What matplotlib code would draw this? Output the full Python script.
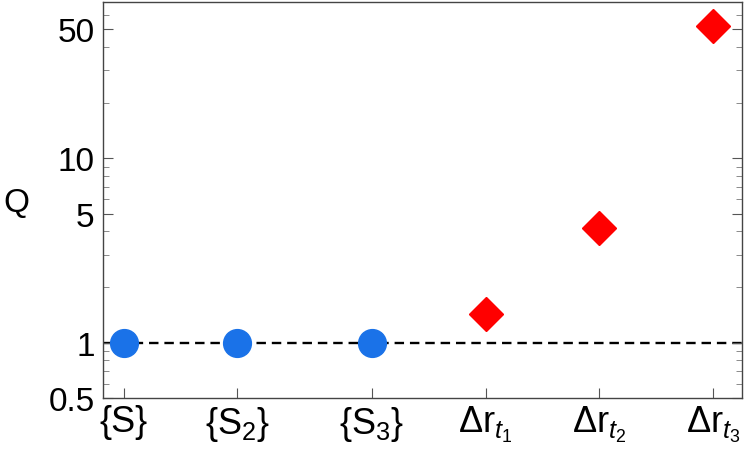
import matplotlib
matplotlib.use("Agg")
import matplotlib.pyplot as plt
from matplotlib.ticker import LogLocator, FixedLocator, NullFormatter

plt.rcParams['font.family'] = ['Liberation Sans', 'DejaVu Sans']
plt.rcParams['mathtext.fontset'] = 'custom'
plt.rcParams['mathtext.rm'] = 'Liberation Sans'
plt.rcParams['mathtext.it'] = 'Liberation Sans:italic'

# data
labels = [r'{S}', r'{S$_2$}', r'{S$_3$}',
          r'$\Delta\mathrm{r}_{t_1}$', r'$\Delta\mathrm{r}_{t_2}$', r'$\Delta\mathrm{r}_{t_3}$']
x_pos = [1, 2, 3.18, 4.18, 5.18, 6.18]
q_sets = [1.0, 1.0, 1.0]
q_dr = [1.42, 4.2, 52.0]
y_ticks = [0.5, 1, 5, 10, 50]

fig = plt.figure(figsize=(7.47, 4.52), dpi=100)
ax = fig.add_axes([0.138, 0.117, 0.855, 0.876])

ax.axhline(1, color='black', linestyle=(0, (4, 2.5)), linewidth=1.7, zorder=1)
ax.plot(x_pos[:3], q_sets, linestyle='none', marker='o', markersize=20,
        color='#1a72e8', zorder=3)
ax.plot(x_pos[3:], q_dr, linestyle='none', marker='D', markersize=17,
        color='#ff0000', zorder=3)

ax.set_yscale('log')
ax.set_ylim(0.5, 70)
ax.set_xlim(0.82, 6.43)

ax.yaxis.set_major_locator(FixedLocator(y_ticks))
ax.set_yticklabels([str(v) for v in y_ticks])
ax.yaxis.set_minor_locator(LogLocator(base=10, subs=range(1, 10), numticks=20))
ax.yaxis.set_minor_formatter(NullFormatter())

ax.set_xticks(x_pos)
ax.set_xticklabels(labels)

ax.tick_params(axis='y', which='major', direction='in', length=7, width=0.8,
               color='#555555', labelsize=24, right=True, pad=6)
ax.tick_params(axis='y', which='minor', direction='in', length=4, width=0.6,
               color='#777777', right=True)
ax.tick_params(axis='x', direction='in', length=7, width=0.8, color='#555555',
               labelsize=26, top=False, pad=4)

for s in ax.spines.values():
    s.set_color('#444444')
    s.set_linewidth(1.0)

ax.set_ylabel('Q', rotation=0, fontsize=24, va='center', ha='center')
ax.yaxis.set_label_coords(-0.136, 0.495)

fig.savefig('out.png', dpi=100)
